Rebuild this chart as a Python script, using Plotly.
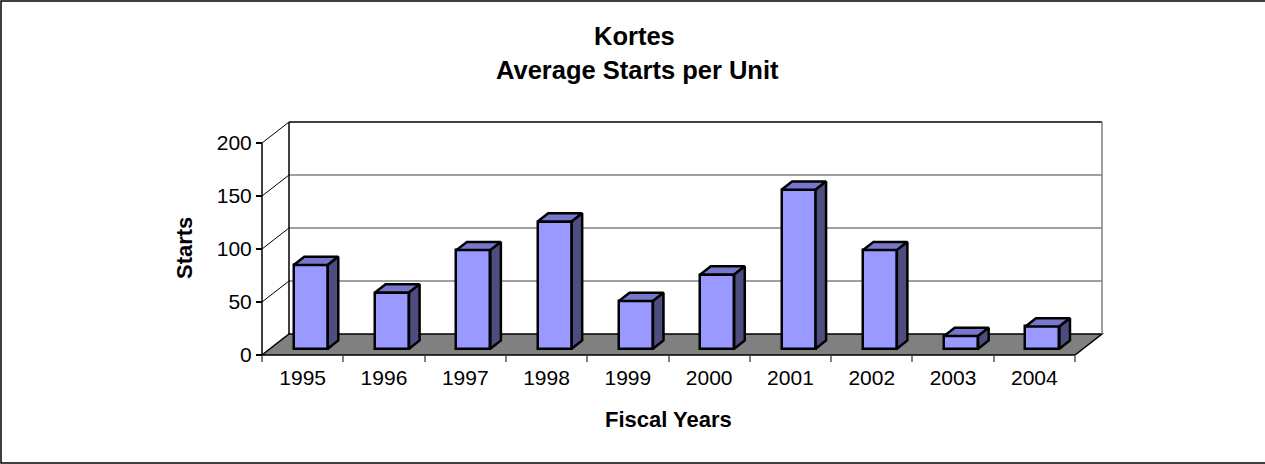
import plotly.graph_objects as go

# ---------------- data ----------------
years = ["1995", "1996", "1997", "1998", "1999", "2000", "2001", "2002", "2003", "2004"]
starts = [79, 53, 93, 120, 45, 70, 150, 93, 12, 21]
y_ticks = [0, 50, 100, 150, 200]
y_max = 200

# ---------------- geometry (pseudo-3D) ----------------
W, H = 1265, 464
PX_CAT = 81.3        # pixels per category
PX_UNIT = 1.06       # pixels per value unit
DX = 27 / PX_CAT     # depth offset in category units
DY = 21 / PX_UNIT    # depth offset in value units
F0, F1 = 0.30, 0.69  # bar front / back depth fraction
BW = 34 / PX_CAT     # bar width
PAD = 4
X_FRONT0, Y_FRONT0 = 262, 355  # pixel of (0,0) at front

n = len(years)
xr = [-PAD / PX_CAT, n + DX + PAD / PX_CAT]
yr = [-PAD / PX_UNIT, y_max + DY + PAD / PX_UNIT]
plot_w = (xr[1] - xr[0]) * PX_CAT
plot_h = (yr[1] - yr[0]) * PX_UNIT
m_l = X_FRONT0 - PAD
m_r = W - m_l - plot_w
m_b = H - Y_FRONT0 - PAD
m_t = H - m_b - plot_h

def px(xp):
    return (xp - m_l) / plot_w

def py(yp):
    return (H - m_b - yp) / plot_h

FONT = "Liberation Sans, Arial, sans-serif"

fig = go.Figure()

# front faces
xc = [i + 0.5 + F0 * DX for i in range(n)]
fig.add_trace(go.Bar(
    x=xc, y=starts, base=[F0 * DY] * n, width=[BW] * n,
    marker=dict(color="#9999FF", line=dict(color="black", width=2.5)),
    hoverinfo="skip", showlegend=False,
))

ddx = (F1 - F0) * DX
ddy = (F1 - F0) * DY
top_x, top_y, side_x, side_y = [], [], [], []
for c, v in zip(xc, starts):
    l, r = c - BW / 2, c + BW / 2
    b = F0 * DY
    t = b + v
    top_x += [l, l + ddx, r + ddx, r, l, None]
    top_y += [t, t + ddy, t + ddy, t, t, None]
    side_x += [r, r + ddx, r + ddx, r, r, None]
    side_y += [b, b + ddy, t + ddy, t, b, None]

fig.add_trace(go.Scatter(x=top_x, y=top_y, fill="toself", fillcolor="#7777CC",
                         mode="lines", line=dict(color="black", width=2.5),
                         hoverinfo="skip", showlegend=False))
fig.add_trace(go.Scatter(x=side_x, y=side_y, fill="toself", fillcolor="#4D4D80",
                         mode="lines", line=dict(color="black", width=2.5),
                         hoverinfo="skip", showlegend=False))

shapes = []
# floor
shapes.append(dict(type="path", layer="below", xref="x", yref="y",
                   path=f"M 0,0 L {n},0 L {n + DX},{DY} L {DX},{DY} Z",
                   fillcolor="#808080", line=dict(color="black", width=1.5)))
# back wall gridlines
for v in y_ticks[1:]:
    col = "black" if v == y_max else "#808080"
    shapes.append(dict(type="line", layer="below", xref="x", yref="y",
                       x0=DX, y0=v + DY, x1=n + DX, y1=v + DY,
                       line=dict(color=col, width=1.5)))
# side wall diagonals
for v in y_ticks[1:]:
    shapes.append(dict(type="line", layer="below", xref="x", yref="y",
                       x0=0, y0=v, x1=DX, y1=v + DY,
                       line=dict(color="black", width=1)))
# wall edges
shapes.append(dict(type="line", layer="below", xref="x", yref="y",
                   x0=DX, y0=DY, x1=DX, y1=y_max + DY, line=dict(color="black", width=1.5)))
shapes.append(dict(type="line", layer="below", xref="x", yref="y",
                   x0=n + DX, y0=DY, x1=n + DX, y1=y_max + DY, line=dict(color="#808080", width=1.5)))
shapes.append(dict(type="line", layer="below", xref="x", yref="y",
                   x0=0, y0=0, x1=0, y1=y_max, line=dict(color="black", width=1.5)))
# outer border
shapes.append(dict(type="rect", xref="paper", yref="paper",
                   x0=px(1), x1=px(W + 2), y0=py(1), y1=py(H - 1),
                   line=dict(color="black", width=1.5), fillcolor="rgba(0,0,0,0)"))

annotations = [
    dict(text="<b>Kortes</b>", x=px(634), y=py(36), xref="paper", yref="paper",
         showarrow=False, xanchor="center", yanchor="middle",
         font=dict(family=FONT, size=25.5, color="black")),
    dict(text="<b>Average Starts per Unit</b>", x=px(637), y=py(70), xref="paper", yref="paper",
         showarrow=False, xanchor="center", yanchor="middle",
         font=dict(family=FONT, size=25.5, color="black")),
    dict(text="<b>Starts</b>", x=px(184), y=py(248), xref="paper", yref="paper",
         showarrow=False, xanchor="center", yanchor="middle", textangle=-90,
         font=dict(family=FONT, size=22, color="black")),
    dict(text="<b>Fiscal Years</b>", x=px(668), y=py(419), xref="paper", yref="paper",
         showarrow=False, xanchor="center", yanchor="middle",
         font=dict(family=FONT, size=22, color="black")),
]

fig.update_layout(
    width=W, height=H,
    margin=dict(l=m_l, r=m_r, t=m_t, b=m_b, pad=0),
    paper_bgcolor="white", plot_bgcolor="white",
    shapes=shapes, annotations=annotations,
    bargap=0, showlegend=False,
    xaxis=dict(range=xr, anchor="free", position=py(Y_FRONT0), automargin=False,
               showgrid=False, zeroline=False, showline=False, fixedrange=True,
               tickmode="array", tickvals=[i + 0.5 for i in range(n)], ticktext=years,
               ticks="", ticklabelstandoff=8,
               tickfont=dict(family=FONT, size=21, color="black"),
               minor=dict(tickmode="array", tickvals=list(range(n + 1)), ticks="outside",
                          ticklen=6, tickcolor="#808080", tickwidth=1.5, showgrid=False)),
    yaxis=dict(range=yr, anchor="free", position=px(X_FRONT0), automargin=False,
               showgrid=False, zeroline=False, showline=False, fixedrange=True,
               tickmode="array", tickvals=y_ticks, ticks="outside", ticklen=6,
               tickcolor="black", tickwidth=1.5,
               tickfont=dict(family=FONT, size=21, color="black")),
)

fig.write_html("out.html", config={"displayModeBar": False},
               post_script="document.body.style.margin='0';document.body.style.overflow='hidden';")
